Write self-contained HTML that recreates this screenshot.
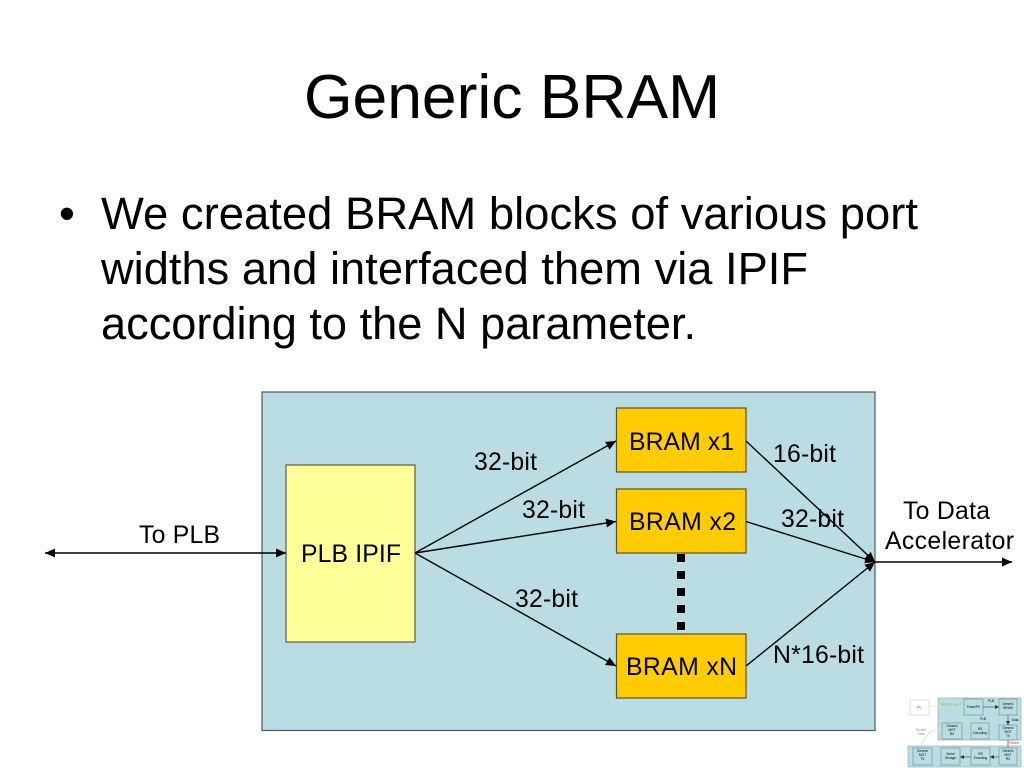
<!DOCTYPE html>
<html><head><meta charset="utf-8"><title>Generic BRAM</title>
<style>html,body{margin:0;padding:0;background:#fff}svg{display:block}text{font-family:"Liberation Sans",sans-serif;fill:#000}</style>
</head><body>
<svg width="1024" height="768" viewBox="0 0 1024 768" xmlns="http://www.w3.org/2000/svg">
<defs>
<marker id="a" markerUnits="userSpaceOnUse" markerWidth="11" markerHeight="9" refX="10" refY="4.5" orient="auto"><path d="M0 0L10 4.5L0 9z" fill="#000"/></marker>
<marker id="b" markerUnits="userSpaceOnUse" markerWidth="11" markerHeight="9" refX="1" refY="4.5" orient="auto"><path d="M11 0L1 4.5L11 9z" fill="#000"/></marker>
<marker id="c" markerUnits="userSpaceOnUse" markerWidth="5" markerHeight="4" refX="4" refY="2" orient="auto"><path d="M0 0L4 2L0 4z" fill="#333"/></marker>
</defs>
<text x="304" y="118" font-size="62.4">Generic BRAM</text>
<text x="59" y="229" font-size="45.3">•</text>
<text x="101" y="229" font-size="45.4" textLength="817">We created BRAM blocks of various port</text>
<text x="101" y="284" font-size="45.2" textLength="707">widths and interfaced them via IPIF</text>
<text x="101" y="339" font-size="45.2" textLength="595">according to the N parameter.</text>

<rect x="262" y="392" width="613" height="338.5" fill="#b9dde2" stroke="#4a5a60" stroke-width="1.2"/>
<rect x="286" y="465" width="129" height="177" fill="#ffff99" stroke="#5e5e40" stroke-width="1.2"/>
<rect x="616.5" y="408" width="129.5" height="64" fill="#ffcc00" stroke="#5e5020" stroke-width="1.2"/>
<rect x="616.5" y="489" width="129.5" height="64" fill="#ffcc00" stroke="#5e5020" stroke-width="1.2"/>
<rect x="616.5" y="634" width="129.5" height="64" fill="#ffcc00" stroke="#5e5020" stroke-width="1.2"/>
<g fill="#000"><rect x="677" y="554" width="8" height="8"/><rect x="677" y="571" width="8" height="8"/><rect x="677" y="588" width="8" height="8"/><rect x="677" y="605" width="8" height="8"/><rect x="677" y="622" width="8" height="8"/></g>

<g stroke="#000" stroke-width="1.4" fill="none">
<line x1="45" y1="553" x2="286" y2="553" marker-start="url(#b)" marker-end="url(#a)"/>
<line x1="415" y1="553" x2="616" y2="441" marker-end="url(#a)"/>
<line x1="415" y1="553" x2="616" y2="521.5" marker-end="url(#a)"/>
<line x1="415" y1="553" x2="616" y2="666" marker-end="url(#a)"/>
<line x1="746" y1="441" x2="875" y2="562" marker-end="url(#a)"/>
<line x1="746" y1="521.5" x2="875" y2="562" marker-end="url(#a)"/>
<line x1="746" y1="666" x2="875" y2="562" marker-end="url(#a)"/>
<line x1="875" y1="562" x2="1012" y2="562" marker-end="url(#a)"/>
</g>

<g font-size="24.8">
<text x="139" y="543" textLength="81">To PLB</text>
<text x="301" y="562" textLength="100">PLB IPIF</text>
<text x="474" y="470" textLength="63">32-bit</text>
<text x="522" y="518" textLength="63">32-bit</text>
<text x="515" y="607" textLength="63">32-bit</text>
<text x="629" y="450" textLength="105">BRAM x1</text>
<text x="629" y="530" textLength="107">BRAM x2</text>
<text x="626" y="675" textLength="111">BRAM xN</text>
<text x="773" y="462" textLength="63">16-bit</text>
<text x="781" y="527" textLength="63">32-bit</text>
<text x="773" y="663" textLength="91">N*16-bit</text>
<text x="903" y="519" textLength="87">To Data</text>
<text x="885" y="549" textLength="129">Accelerator</text>
</g>

<g stroke="#8fa5a8" stroke-width="0.6">
<rect x="938" y="698" width="83" height="42" fill="#b9dde2"/>
<rect x="908" y="746" width="113" height="21" fill="#b9dde2"/>
<rect x="910" y="700" width="19" height="15" fill="#fff" stroke="#ccc"/>
<g fill="#b9dde2" stroke="#6f8a8c">
<rect x="964" y="699" width="19" height="16"/>
<rect x="999" y="699" width="18" height="16"/>
<rect x="999" y="725" width="18" height="15"/>
<rect x="942" y="723" width="20" height="16"/>
<rect x="971" y="723" width="18" height="16"/>
<rect x="913" y="748" width="19" height="17"/>
<rect x="941" y="748" width="19" height="17"/>
<rect x="971" y="748" width="19" height="17"/>
<rect x="999" y="748" width="18" height="17"/>
</g>
</g>
<g stroke="#444" stroke-width="0.6" fill="none">
<line x1="983" y1="707" x2="999" y2="707" marker-end="url(#c)"/>
<line x1="1008" y1="715" x2="1008" y2="725" marker-end="url(#c)"/>
<line x1="999" y1="757" x2="990" y2="757" marker-end="url(#c)"/>
<line x1="971" y1="757" x2="960" y2="757" marker-end="url(#c)"/>
</g>
<path d="M929 706H964" stroke="#e8e4a8" stroke-width="0.8" fill="none"/>
<path d="M921 746Q928 728 942 729" stroke="#e8e4a8" stroke-width="1" fill="none"/>
<path d="M962 731H971" stroke="#cfe0a8" stroke-width="1" fill="none"/>
<path d="M1008 740V748" stroke="#b05050" stroke-width="0.8" fill="none"/>
<g font-size="3.2" text-anchor="middle" style="fill:#444">
<text x="919.5" y="708.5" style="fill:#555">PC</text>
<text x="973.5" y="708">PowerPC</text>
<text x="1008" y="705">Generic</text><text x="1008" y="709">BRAM</text>
<text x="1008" y="729">Generic</text><text x="1008" y="733">MGT</text><text x="1008" y="737">TX</text>
<text x="952" y="727">Generic</text><text x="952" y="731">MGT</text><text x="952" y="735">RX</text>
<text x="980" y="730">RS</text><text x="980" y="734">Decoding</text>
<text x="922.5" y="752">Generic</text><text x="922.5" y="756">MGT</text><text x="922.5" y="760">TX</text>
<text x="950.5" y="755">Serial</text><text x="950.5" y="759">Storage</text>
<text x="980.5" y="755">RS</text><text x="980.5" y="759">Encoding</text>
<text x="1008" y="752">Generic</text><text x="1008" y="756">MGT</text><text x="1008" y="760">RX</text>
<text x="951" y="706" style="fill:#8aa">RS232 / UART</text>
<text x="991" y="702">PLB</text>
<text x="983" y="720">PLB</text>
<text x="921" y="731" style="fill:#888">Rocket</text><text x="921" y="735" style="fill:#888">Data</text>
<text x="1015" y="721">Data</text>
<text x="1014" y="744" style="fill:#a55">Parallel</text>
</g>
</svg>
</body></html>
